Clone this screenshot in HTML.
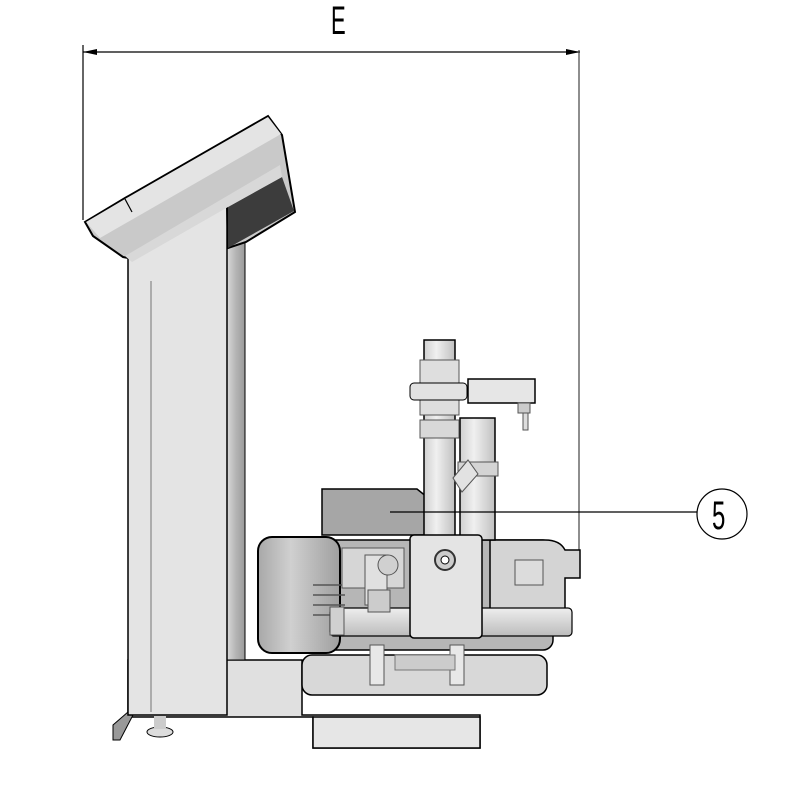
<!DOCTYPE html>
<html><head><style>html,body{margin:0;padding:0;background:#fff;}svg{display:block}</style></head>
<body>
<svg width="800" height="800" viewBox="0 0 800 800" xmlns="http://www.w3.org/2000/svg">
<defs>
<linearGradient id="side" x1="0" x2="1"><stop offset="0" stop-color="#d8d8d8"/><stop offset="0.5" stop-color="#b4b4b4"/><stop offset="1" stop-color="#9a9a9a"/></linearGradient>
<linearGradient id="motor" x1="0" x2="1"><stop offset="0" stop-color="#a8a8a8"/><stop offset="0.4" stop-color="#d0d0d0"/><stop offset="1" stop-color="#9f9f9f"/></linearGradient>
<linearGradient id="pipe" x1="0" x2="1"><stop offset="0" stop-color="#d0d0d0"/><stop offset="0.4" stop-color="#f0f0f0"/><stop offset="1" stop-color="#c0c0c0"/></linearGradient>
<linearGradient id="hpipe" x1="0" y1="0" x2="0" y2="1"><stop offset="0" stop-color="#eeeeee"/><stop offset="1" stop-color="#bcbcbc"/></linearGradient>
</defs>
<text x="0" y="34" font-family="Liberation Sans, sans-serif" font-size="40" transform="translate(331 0) scale(0.55 1)">E</text>
<line x1="83" y1="52" x2="580" y2="52" stroke="#000" stroke-width="1.2"/>
<polygon points="83,52 97,49 97,55" fill="#000"/>
<polygon points="580,52 566,49 566,55" fill="#000"/>
<line x1="83" y1="45" x2="83" y2="220" stroke="#000" stroke-width="1.2"/>
<line x1="579" y1="50" x2="579" y2="575" stroke="#444" stroke-width="1.2"/>

<polygon points="128,660 302,660 302,715 480,715 480,748 313,748 313,717 128,717" fill="#e0e0e0" stroke="#000" stroke-width="1.5"/>
<rect x="313" y="717" width="167" height="31" fill="#e6e6e6" stroke="#000" stroke-width="1.5"/>
<polygon points="113,740 113,725 128,712 133,715 120,740" fill="#999" stroke="#000" stroke-width="1"/>
<ellipse cx="160" cy="732" rx="13" ry="5" fill="#ddd" stroke="#000"/>
<rect x="154" y="715" width="12" height="14" fill="#ccc"/>
<rect x="227" y="240" width="18" height="420" fill="url(#side)" stroke="#000" stroke-width="1"/>
<polygon points="128,258 227,205 227,715 128,715" fill="#e4e4e4" stroke="#000" stroke-width="1.5"/>
<line x1="151" y1="281" x2="151" y2="712" stroke="#999" stroke-width="1.5"/>
<polygon points="85,222 125,198 268,116 282,135 295,212 246,242 228,248 227,205 128,258 123,257 93,236" fill="#c9c9c9" stroke="#000" stroke-width="2"/>
<polygon points="86,222 125,199 268,117 281,134 100,238" fill="#e4e4e4"/>
<line x1="125" y1="199" x2="132" y2="212" stroke="#000" stroke-width="1.2"/>
<polygon points="228,207 282,177 294,211 228,248" fill="#3c3c3c"/>
<polygon points="125,256 280,165 282,177 228,207 132,262" fill="#d8d8d8"/>

<rect x="313" y="540" width="240" height="110" rx="10" fill="#b6b6b6" stroke="#000" stroke-width="1.5"/>
<rect x="258" y="537" width="82" height="116" rx="14" fill="url(#motor)" stroke="#000" stroke-width="2"/>
<g stroke="#555" stroke-width="1.5"><line x1="313" y1="585" x2="345" y2="585"/><line x1="313" y1="595" x2="345" y2="595"/><line x1="313" y1="605" x2="345" y2="605"/><line x1="313" y1="615" x2="345" y2="615"/></g>
<path d="M322,489 h95 l10,8 v38 h-105 z" fill="#a6a6a6" stroke="#000" stroke-width="1.5"/>
<path d="M490,540 h55 q15,0 20,10 h15 v28 h-15 v55 h-75 z" fill="#d4d4d4" stroke="#000" stroke-width="1.5"/>
<rect x="515" y="560" width="28" height="25" fill="#dcdcdc" stroke="#555"/>
<rect x="330" y="608" width="242" height="28" rx="4" fill="url(#hpipe)" stroke="#000" stroke-width="1.2"/>
<rect x="330" y="607" width="14" height="28" fill="#d0d0d0" stroke="#555"/>
<rect x="342" y="548" width="62" height="40" fill="#d6d6d6" stroke="#555"/>
<rect x="365" y="555" width="22" height="50" fill="#e0e0e0" stroke="#555"/>
<circle cx="388" cy="565" r="10" fill="#d0d0d0" stroke="#555"/>
<rect x="368" y="590" width="22" height="22" fill="#ccc" stroke="#555"/>
<rect x="460" y="418" width="35" height="122" fill="url(#pipe)" stroke="#000" stroke-width="1.5"/>
<rect x="458" y="462" width="40" height="14" fill="#d4d4d4" stroke="#555"/>
<rect x="424" y="340" width="31" height="200" fill="url(#pipe)" stroke="#000" stroke-width="1.5"/>
<rect x="420" y="360" width="39" height="55" fill="#dedede" stroke="#555"/>
<rect x="410" y="383" width="57" height="17" rx="4" fill="#e2e2e2" stroke="#000"/>
<rect x="420" y="420" width="39" height="18" fill="#d8d8d8" stroke="#555"/>
<polygon points="453,478 468,460 478,474 462,492" fill="#e2e2e2" stroke="#555"/>
<rect x="468" y="379" width="67" height="24" fill="#e6e6e6" stroke="#000" stroke-width="1.5"/>
<rect x="518" y="403" width="12" height="10" fill="#ccc" stroke="#555"/>
<rect x="523" y="413" width="5" height="17" fill="#ddd" stroke="#555"/>
<rect x="410" y="535" width="72" height="103" rx="4" fill="#e4e4e4" stroke="#000" stroke-width="1.5"/>
<circle cx="445" cy="560" r="10" fill="#ccc" stroke="#333" stroke-width="2"/>
<circle cx="445" cy="560" r="4" fill="#fff" stroke="#000"/>
<rect x="302" y="655" width="245" height="40" rx="10" fill="#d8d8d8" stroke="#000" stroke-width="1.5"/>
<rect x="370" y="645" width="14" height="40" fill="#e8e8e8" stroke="#555"/>
<rect x="450" y="645" width="14" height="40" fill="#e8e8e8" stroke="#555"/>
<rect x="395" y="655" width="60" height="15" fill="#ccc" stroke="#777"/>
<line x1="390" y1="512" x2="697" y2="512" stroke="#000" stroke-width="1.2"/>
<circle cx="722" cy="514" r="25" fill="#fff" stroke="#000" stroke-width="1.2"/>
<text x="0" y="529" font-family="Liberation Sans, sans-serif" font-size="40" transform="translate(712 0) scale(0.6 1)">5</text>
</svg>
</body></html>
